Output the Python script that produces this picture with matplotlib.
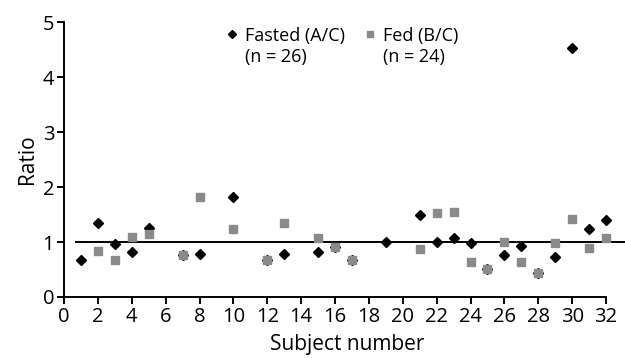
import matplotlib.pyplot as plt
import numpy as np

# subject numbers and ratios
fasted_subj = [1, 2, 3, 4, 5, 7, 8, 10, 12, 13, 15, 16, 17, 19, 21, 22, 23, 24, 25, 26, 27, 28, 29, 30, 31, 32]
fasted_ratio = [0.67, 1.35, 0.97, 0.81, 1.25, 0.77, 0.78, 1.82, 0.67, 0.79, 0.82, 0.91, 0.67, 1.0,
                1.50, 1.0, 1.07, 0.98, 0.51, 0.76, 0.93, 0.43, 0.73, 4.52, 1.24, 1.40]
fed_subj = [2, 3, 4, 5, 7, 8, 10, 12, 13, 15, 16, 17, 21, 22, 23, 24, 25, 26, 27, 28, 29, 30, 31, 32]
fed_ratio = [0.84, 0.67, 1.10, 1.15, 0.77, 1.81, 1.23, 0.67, 1.34, 1.08, 0.91, 0.67, 0.87, 1.52,
             1.55, 0.63, 0.51, 1.0, 0.64, 0.43, 0.98, 1.41, 0.90, 1.07]
xticks = list(range(0, 33, 2))
yticks = [0, 1, 2, 3, 4, 5]

plt.rcParams['font.family'] = ['Open Sans', 'DejaVu Sans']

fig = plt.figure(figsize=(6.25, 3.58), dpi=100)
ax = fig.add_axes([0.1024, 0.1704, 0.8672, 0.7681])

ax.axhline(1, xmin=0.022, xmax=1.04, color='black', lw=1.4, clip_on=False, zorder=1)
ax.plot(fasted_subj, fasted_ratio, 'D', color='black', ms=5.6, ls='none',
        label='Fasted (A/C)\n(n = 26)', zorder=2, clip_on=False)
ax.plot(fed_subj, fed_ratio, 's', color='#8a8a8a', ms=5.8, ls='none',
        label='Fed (B/C)\n(n = 24)', zorder=3, clip_on=False)

ax.set_xlim(0, 32)
ax.set_ylim(0, 5)
ax.set_xticks(xticks)
ax.set_yticks(yticks)
ax.spines['top'].set_visible(False)
ax.spines['right'].set_visible(False)
for s in ['left', 'bottom']:
    ax.spines[s].set_linewidth(1.4)
ax.tick_params(width=1.4, length=5, labelsize=14.5, pad=2)
ax.set_xlabel('Subject number', fontsize=15, labelpad=0)
ax.xaxis.set_label_coords(0.522, -0.135)
ax.set_ylabel('Ratio', fontsize=15, labelpad=3)

leg = ax.legend(loc='upper center', bbox_to_anchor=(0.512, 1.04), ncol=2, frameon=False,
                fontsize=13, handletextpad=0.3, columnspacing=1.0, markerscale=0.75,
                handlelength=0.8, labelspacing=0.1)
# put the legend markers level with the first text line
for col in leg._legend_handle_box.get_children():
    for item in col.get_children():
        item.align = 'top'

fig.savefig('out.png', dpi=100)
